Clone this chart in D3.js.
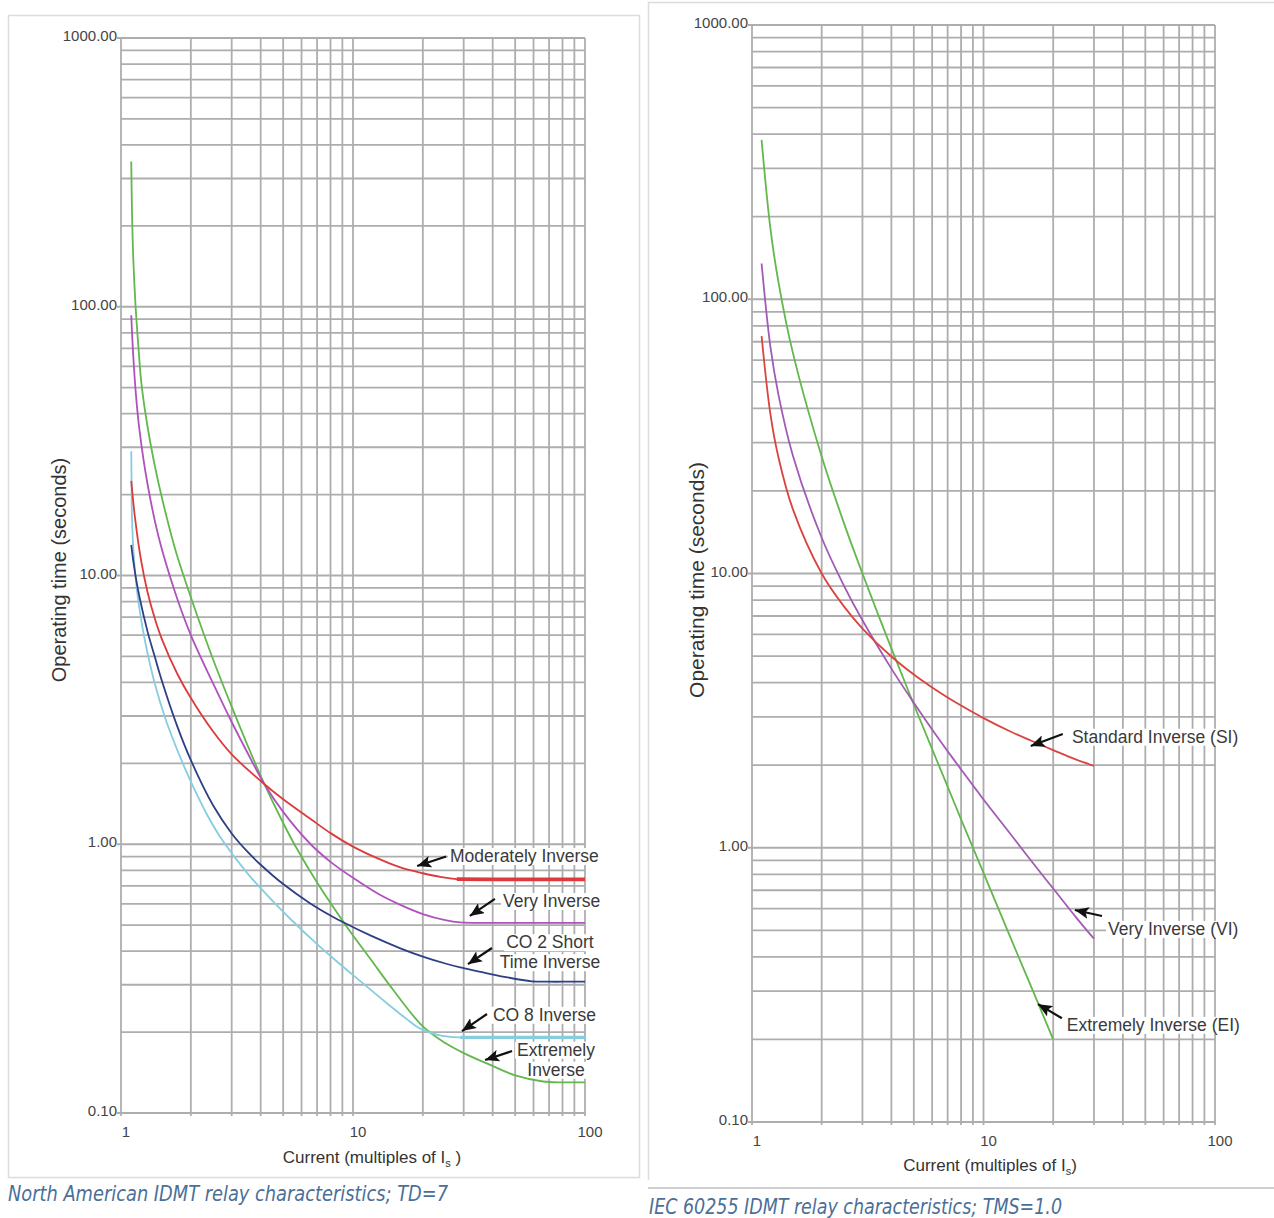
<!DOCTYPE html>
<html><head><meta charset="utf-8">
<script src="https://cdn.jsdelivr.net/npm/d3@7"></script>
<style>
body{margin:0;background:#fff;}
svg{display:block;font-family:"Liberation Sans",Arial,Helvetica,sans-serif;}
</style></head><body>
<svg id="chart" width="1274" height="1218"></svg>
<script>
// ---------- data ----------
const yTickValues = [0.1, 1, 10, 100, 1000];
const yTickLabels = ["0.10", "1.00", "10.00", "100.00", "1000.00"];
const xTickValues = [1, 10, 100];
const xTickLabels = ["1", "10", "100"];

// North American IDMT curves, TD=7 : [multiple of Is, seconds]
const naModeratelyInverse = [[1.107,22.5],[1.15,16.3],[1.22,11.4],[1.3,8.7],[1.4,6.9],[1.5,5.8],[1.75,4.3],[2,3.5],[2.5,2.62],[3,2.16],[4,1.72],[5,1.47],[6.5,1.25],[8,1.1],[10,0.98],[13,0.88],[16,0.82],[20,0.78],[24,0.755],[28,0.742],[40,0.74],[60,0.74],[100,0.74]];
const naVeryInverse = [[1.107,93],[1.13,65],[1.16,47],[1.2,35],[1.3,22],[1.45,14],[1.7,8.8],[2,6.0],[2.5,3.95],[3,2.85],[3.5,2.2],[4.14,1.68],[5,1.32],[6.57,1.0],[8,0.86],[10,0.75],[13,0.65],[16,0.595],[20,0.55],[25,0.522],[29,0.512],[40,0.51],[60,0.51],[100,0.51]];
const naCO2ShortTime = [[1.107,13],[1.13,11.3],[1.16,9.76],[1.2,8.35],[1.3,6.21],[1.4,4.97],[1.5,4.06],[1.75,2.74],[2,2.055],[2.5,1.39],[3,1.097],[3.5,0.94],[4,0.839],[5,0.711],[6.5,0.605],[8,0.543],[9.3,0.507],[12,0.456],[16,0.41],[20,0.382],[25,0.36],[29,0.348],[35,0.336],[45,0.321],[59,0.309],[70,0.308],[85,0.308],[100,0.308]];
const naCO8Inverse = [[1.107,29],[1.11,23],[1.115,16.5],[1.125,13.5],[1.14,11.25],[1.17,8.9],[1.2,7.55],[1.25,6.11],[1.3,5.16],[1.4,3.95],[1.54,3.0],[1.7,2.38],[1.87,1.95],[2,1.71],[2.35,1.288],[2.7,1.053],[3.5,0.781],[4.5,0.616],[5.5,0.517],[7,0.425],[8.5,0.367],[10.4,0.317],[14,0.256],[17,0.224],[19.5,0.206],[24,0.194],[29,0.191],[40,0.191],[60,0.191],[100,0.191]];
const naExtremelyInverse = [[1.107,347],[1.115,230],[1.13,150],[1.156,100],[1.19,70],[1.224,52],[1.3,36],[1.4,25.5],[1.5,19.5],[1.7,12.8],[1.86,10],[2.13,7.1],[2.5,4.85],[3,3.25],[3.5,2.35],[4.14,1.68],[5,1.2],[5.7,0.97],[7,0.72],[9.3,0.5],[12,0.37],[15,0.285],[20,0.21],[25,0.182],[30,0.167],[39,0.151],[50,0.138],[66,0.131],[80,0.13],[100,0.13]];

// IEC 60255 curves, TMS=1.0
const iecStandardInverse = [[1.1,73.4],[1.2,38.3],[1.3,26.6],[1.5,17.2],[2,10.0],[2.5,7.57],[3,6.3],[4,4.98],[5,4.28],[6,3.84],[7,3.53],[8,3.3],[10,2.97],[13,2.66],[16,2.46],[20,2.27],[25,2.1],[30,1.99]];
const iecVeryInverse = [[1.1,135],[1.2,67.5],[1.3,45],[1.5,27],[2,13.5],[2.5,9],[3,6.75],[4,4.5],[5,3.38],[6,2.7],[7,2.25],[8,1.93],[10,1.5],[13,1.13],[16,0.9],[20,0.71],[25,0.56],[30,0.466]];
const iecExtremelyInverse = [[1.1,381],[1.2,182],[1.3,116],[1.5,64],[2,26.7],[2.5,15.2],[3,10],[4,5.33],[5,3.33],[6,2.29],[7,1.67],[8,1.27],[10,0.81],[13,0.476],[16,0.314],[20,0.2]];

// annotation texts and anchor points in data units [I, t]
const naLabels = [
  {lines:["Moderately Inverse"], at:[26.2,0.904], anchor:"start", from:[25.2,0.9], to:[18.9,0.83]},
  {lines:["Very Inverse"], at:[44.3,0.615], anchor:"start", from:[40.9,0.626], to:[31.9,0.541]},
  {lines:["CO 2 Short","Time Inverse"], at:[70.6,0.432], anchor:"middle", from:[39.7,0.411], to:[31.3,0.358]},
  {lines:["CO 8 Inverse"], at:[40.1,0.232], anchor:"start", from:[37.8,0.2335], to:[29.5,0.2018]},
  {lines:["Extremely","Inverse"], at:[75,0.172], anchor:"middle", from:[48.5,0.17], to:[37.1,0.1575]}
];
const iecLabels = [
  {lines:["Standard Inverse (SI)"], at:[24.1,2.54], anchor:"start", from:[22.0,2.6], to:[16.0,2.35]},
  {lines:["Very Inverse (VI)"], at:[34.5,0.506], anchor:"start", from:[32.5,0.564], to:[24.8,0.593]},
  {lines:["Extremely Inverse (EI)"], at:[22.9,0.226], anchor:"start", from:[21.8,0.239], to:[17.2,0.269]}
];

const naCaption = "North American IDMT relay characteristics; TD=7";
const iecCaption = "IEC 60255 IDMT relay characteristics; TMS=1.0";

// ---------- drawing ----------
const svg = d3.select("#chart");
const defs = svg.append("defs");
defs.append("marker").attr("id","ah").attr("markerUnits","userSpaceOnUse")
  .attr("markerWidth",16).attr("markerHeight",12).attr("refX",14).attr("refY",6).attr("orient","auto")
  .append("path").attr("d","M0,0 L14,6 L0,12 L3,6 Z").attr("fill","#111");

// panel frames
svg.append("rect").attr("x",8.5).attr("y",15.5).attr("width",631).attr("height",1162)
  .attr("fill","none").attr("stroke","#dcdcdc").attr("stroke-width",1.5);
svg.append("path").attr("d","M648.5,1180 V2.5 H1274").attr("fill","none").attr("stroke","#dcdcdc").attr("stroke-width",1.5);
svg.append("line").attr("x1",648).attr("x2",1274).attr("y1",1188).attr("y2",1188).attr("stroke","#cfcfcf").attr("stroke-width",2);

function panel(cfg){
  const x = d3.scaleLog().domain([1,100]).range(cfg.xr);
  const y = d3.scaleLog().domain([0.1,1000]).range(cfg.yr);
  const g = svg.append("g");
  const grid = g.append("g").attr("stroke","#adadad").attr("stroke-width",1.8);
  const bgLayer = g.append("g");
  const curveLayer = g.append("g");
  const labelLayer = g.append("g");
  y.ticks().forEach(v=>{
    const major = yTickValues.includes(v);
    grid.append("line").attr("x1",cfg.xr[0]-(major?4:0)).attr("x2",cfg.xr[1])
      .attr("y1",y(v)).attr("y2",y(v));
  });
  x.ticks().forEach(v=>{
    grid.append("line").attr("x1",x(v)).attr("x2",x(v))
      .attr("y1",cfg.yr[1]).attr("y2",cfg.yr[0]+3);
  });
  yTickValues.forEach((v,i)=>{
    g.append("text").attr("x",cfg.xr[0]-4).attr("y",y(v)+3).attr("text-anchor","end")
      .attr("font-size",15).attr("fill","#444").text(yTickLabels[i]);
  });
  xTickValues.forEach((v,i)=>{
    g.append("text").attr("x",x(v)+5).attr("y",cfg.yr[0]+cfg.xTickDy).attr("text-anchor","middle")
      .attr("font-size",15).attr("fill","#444").text(xTickLabels[i]);
  });
  g.append("text").attr("transform",`translate(${cfg.yTitle[0]},${cfg.yTitle[1]}) rotate(-90)`)
    .attr("text-anchor","middle").attr("font-size",cfg.yTitleSize).attr("fill","#333").text("Operating time (seconds)");
  const xt = g.append("text").attr("x",cfg.xTitle[0]).attr("y",cfg.xTitle[1]).attr("text-anchor","middle")
    .attr("font-size",17).attr("fill","#333");
  xt.append("tspan").text("Current (multiples of I");
  xt.append("tspan").attr("font-size",11).attr("dy",4).text("s");
  xt.append("tspan").attr("dy",-4).text(cfg.xTitleEnd);

  const line = d3.line().x(d=>x(d[0])).y(d=>y(d[1])).curve(d3.curveCatmullRom.alpha(0.5));
  cfg.series.forEach(s=>{
    curveLayer.append("path").attr("d",line(s.data)).attr("fill","none").attr("stroke",s.color)
      .attr("stroke-width",s.w||1.8).attr("stroke-linejoin","round");
    if(s.flatW){
      const n = s.data.length;
      curveLayer.append("path").attr("d",d3.line().x(d=>x(d[0])).y(d=>y(d[1]))(s.data.slice(n-s.flatN)))
        .attr("fill","none").attr("stroke",s.color).attr("stroke-width",s.flatW);
    }
  });

  cfg.labels.forEach(l=>{
    const texts = l.lines.map((s,i)=> labelLayer.append("text").attr("font-size",17.5).attr("fill","#3a3a3a")
      .attr("text-anchor",l.anchor).attr("x",x(l.at[0])).attr("y",y(l.at[1])+6+i*cfg.lineH).text(s));
    texts.forEach(t=>{
      const b = t.node().getBBox();
      bgLayer.append("rect").attr("x",b.x-2).attr("y",b.y+2).attr("width",b.width+4).attr("height",b.height-3).attr("fill","#fff");
    });
    labelLayer.append("line").attr("x1",x(l.from[0])).attr("y1",y(l.from[1])).attr("x2",x(l.to[0])).attr("y2",y(l.to[1]))
      .attr("stroke","#111").attr("stroke-width",2.2).attr("marker-end","url(#ah)");
  });

  svg.append("text").attr("x",cfg.cap[0]).attr("y",cfg.cap[1]).attr("font-size",22).attr("font-style","italic")
    .attr("font-family","'Liberation Sans Narrow','DejaVu Sans Condensed','Open Sans',sans-serif")
    .attr("fill","#4a6f98").attr("textLength",cfg.capLen).attr("lengthAdjust","spacingAndGlyphs").text(cfg.caption);
}

panel({
  xr:[121,585], yr:[1113,38], xTickDy:24, yTitle:[66,570], yTitleSize:20, xTitle:[372,1163], xTitleEnd:" )",
  lineH:20, cap:[8,1201], capLen:440, caption:naCaption,
  series:[
    {data:naExtremelyInverse, color:"#62b84c"},
    {data:naCO8Inverse, color:"#86cde0", flatW:3.2, flatN:4},
    {data:naCO2ShortTime, color:"#2f3f86"},
    {data:naVeryInverse, color:"#b052bd"},
    {data:naModeratelyInverse, color:"#dd3b3b", flatW:3.6, flatN:4}
  ],
  labels:naLabels
});
panel({
  xr:[752,1215], yr:[1122,25], xTickDy:24, yTitle:[704,580], yTitleSize:21, xTitle:[990,1171], xTitleEnd:")",
  lineH:20, cap:[649,1214], capLen:413, caption:iecCaption,
  series:[
    {data:iecExtremelyInverse, color:"#62b84c"},
    {data:iecVeryInverse, color:"#a25bb4"},
    {data:iecStandardInverse, color:"#d9443f"}
  ],
  labels:iecLabels
});
</script>
</body></html>
